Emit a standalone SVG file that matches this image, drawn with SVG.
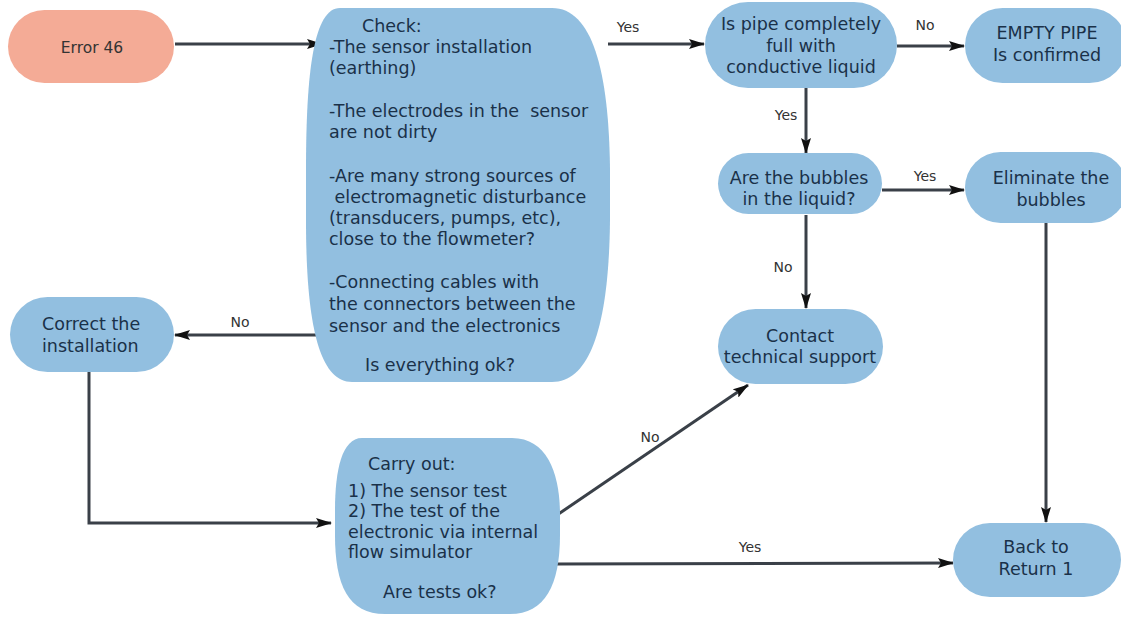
<svg xmlns="http://www.w3.org/2000/svg" width="1121" height="617" viewBox="0 0 1121 617">
<defs>
<marker id="ah" markerUnits="userSpaceOnUse" markerWidth="16" markerHeight="10" refX="15" refY="5" orient="auto">
<path d="M0,0 L16,5 L0,10 L3,5 z" fill="#111"/>
</marker>
<style>
.n{fill:#92bfe0;}
.e{fill:#f4ab96;}
.t{font-family:"DejaVu Sans",sans-serif;font-size:17.5px;fill:#1a3149;}
.c{text-anchor:middle;}
.lb{font-family:"DejaVu Sans",sans-serif;font-size:14px;fill:#333;text-anchor:middle;}
.ln{fill:none;stroke:#3a4048;stroke-width:3;}
.ar{marker-end:url(#ah);}
</style>
</defs>
<rect width="1121" height="617" fill="#fff"/>
<g id="connectors">
<path class="ln ar" d="M175,44 L322,44"/>
<path class="ln ar" d="M608,44 L704,44"/>
<path class="ln ar" d="M897,46 L964,46"/>
<path class="ln ar" d="M806,88 L806,153"/>
<path class="ln ar" d="M882,190 L964,190"/>
<path class="ln ar" d="M806,215 L806,308"/>
<path class="ln ar" d="M1046,222 L1046,522"/>
<path class="ln ar" d="M320,335 L175,335"/>
<path class="ln ar" d="M89,372 L89,523 L331,523"/>
<path class="ln ar" d="M557,515 L748,385"/>
<path class="ln ar" d="M555,564 L953,563"/>
<text class="lb" x="628" y="32">Yes</text>
<text class="lb" x="925" y="30">No</text>
<text class="lb" x="786" y="120">Yes</text>
<text class="lb" x="925" y="181">Yes</text>
<text class="lb" x="783" y="272">No</text>
<text class="lb" x="240" y="327">No</text>
<text class="lb" x="650" y="442">No</text>
<text class="lb" x="750" y="552">Yes</text>
</g>
<g id="error46">
<rect class="e" x="8" y="10" width="166" height="73" rx="36.5"/>
<text class="t c" x="92" y="53" style="font-size:15.5px;fill:#333">Error 46</text>
</g>
<g id="check">
<path class="n" d="M340,8 L552,8 C592,8 609,70 610,170 L610,220 C609,320 592,382 552,382 L352,382 C318,382 306,320 306,220 L306,170 C306,70 314,8 340,8 Z"/>
<text class="t" x="362" y="32">Check:</text>
<text class="t" x="329" y="53">-The sensor installation</text>
<text class="t" x="329" y="74">(earthing)</text>
<text class="t" x="329" y="117" xml:space="preserve">-The electrodes in the  sensor</text>
<text class="t" x="329" y="138">are not dirty</text>
<text class="t" x="329" y="182">-Are many strong sources of</text>
<text class="t" x="329" y="203" xml:space="preserve"> electromagnetic disturbance</text>
<text class="t" x="329" y="224">(transducers, pumps, etc),</text>
<text class="t" x="329" y="245">close to the flowmeter?</text>
<text class="t" x="329" y="288">-Connecting cables with</text>
<text class="t" x="329" y="310">the connectors between the</text>
<text class="t" x="329" y="332">sensor and the electronics</text>
<text class="t" x="365" y="371">Is everything ok?</text>
</g>
<g id="pipefull">
<rect class="n" x="705" y="2" width="192" height="86" rx="43"/>
<text class="t c" x="801" y="30">Is pipe completely</text>
<text class="t c" x="801" y="52">full with</text>
<text class="t c" x="801" y="73">conductive liquid</text>
</g>
<g id="emptypipe">
<rect class="n" x="965" y="8" width="162" height="75" rx="37.5"/>
<text class="t c" x="1047" y="39">EMPTY PIPE</text>
<text class="t c" x="1047" y="61">Is confirmed</text>
</g>
<g id="bubbles">
<rect class="n" x="718" y="153" width="164" height="61" rx="30.5"/>
<text class="t c" x="799" y="184">Are the bubbles</text>
<text class="t c" x="799" y="205">in the liquid?</text>
</g>
<g id="eliminate">
<rect class="n" x="965" y="152" width="162" height="71" rx="35.5"/>
<text class="t c" x="1051" y="184">Eliminate the</text>
<text class="t c" x="1051" y="206">bubbles</text>
</g>
<g id="contact">
<rect class="n" x="718" y="309" width="165" height="75" rx="37.5"/>
<text class="t c" x="800" y="342">Contact</text>
<text class="t c" x="800" y="363">technical support</text>
</g>
<g id="correct">
<rect class="n" x="10" y="297" width="164" height="75" rx="37.5"/>
<text class="t" x="42" y="330">Correct the</text>
<text class="t" x="42" y="352">installation</text>
</g>
<g id="carryout">
<path class="n" d="M362,438 L512,438 C548,438 560,475 560,515 L560,535 C560,585 545,614 510,614 L385,614 C348,614 335,585 335,535 L335,510 C335,470 342,438 362,438 Z"/>
<text class="t" x="368" y="470">Carry out:</text>
<text class="t" x="348" y="497">1) The sensor test</text>
<text class="t" x="348" y="517">2) The test of the</text>
<text class="t" x="348" y="538">electronic via internal</text>
<text class="t" x="348" y="558">flow simulator</text>
<text class="t" x="383" y="598">Are tests ok?</text>
</g>
<g id="back">
<rect class="n" x="953" y="523" width="168" height="74" rx="37"/>
<text class="t c" x="1036" y="553">Back to</text>
<text class="t c" x="1036" y="575">Return 1</text>
</g>
</svg>
